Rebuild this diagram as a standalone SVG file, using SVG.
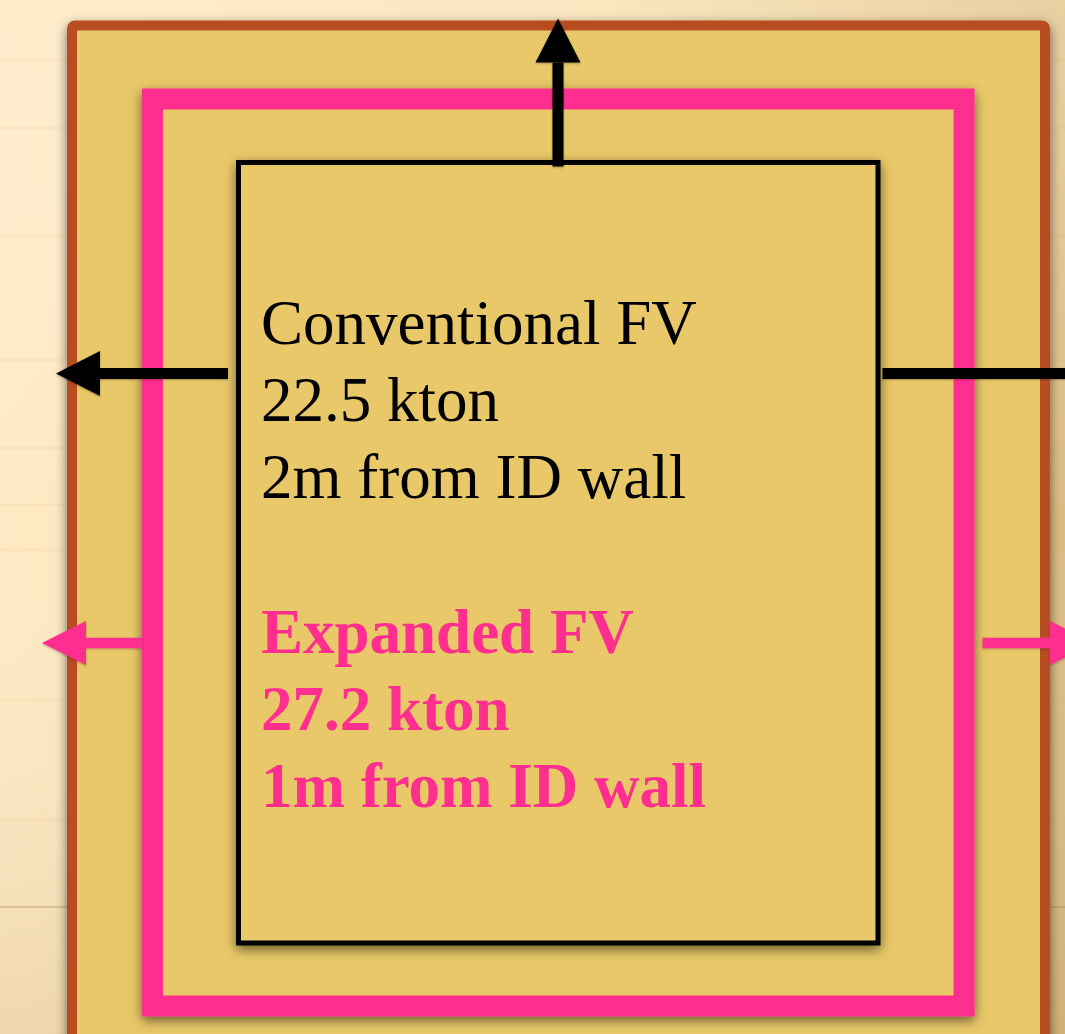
<svg xmlns="http://www.w3.org/2000/svg" width="1065" height="1034" viewBox="0 0 1065 1034">
  <defs>
    <linearGradient id="bgH" x1="0" y1="0" x2="1" y2="0">
      <stop offset="0" stop-color="#FFE9C4"/>
      <stop offset="0.55" stop-color="#F8E0B2"/>
      <stop offset="1" stop-color="#DDBC82"/>
    </linearGradient>
    <linearGradient id="bgV" x1="0" y1="0" x2="0" y2="1">
      <stop offset="0" stop-color="#FFF3DA" stop-opacity="0.35"/>
      <stop offset="0.5" stop-color="#FFFFFF" stop-opacity="0"/>
      <stop offset="1" stop-color="#8A6A30" stop-opacity="0.14"/>
    </linearGradient>
    <filter id="shadow" x="-10%" y="-10%" width="120%" height="120%">
      <feDropShadow dx="0" dy="4" stdDeviation="6" flood-color="#000" flood-opacity="0.55"/>
    </filter>
    <filter id="ashadow" x="-20%" y="-20%" width="140%" height="140%">
      <feDropShadow dx="0" dy="1" stdDeviation="1" flood-color="#000" flood-opacity="0.3"/>
    </filter>
    <marker id="headBlack" markerUnits="userSpaceOnUse" markerWidth="44" markerHeight="46" refX="0" refY="22.5" orient="auto" overflow="visible">
      <path d="M0,0 L44,22.5 L0,45 Z" fill="#000"/>
    </marker>
    <marker id="headPink" markerUnits="userSpaceOnUse" markerWidth="44" markerHeight="46" refX="0" refY="22" orient="auto" overflow="visible">
      <path d="M0,0 L44,22 L0,44 Z" fill="#FF2E8F"/>
    </marker>
    <style>
      .box { fill: #E8C867; }
      .outer { stroke: #B94E22; stroke-width: 10; }
      .pink { stroke: #FF2E8F; stroke-width: 21; }
      .conv { stroke: #000; stroke-width: 5; }
      .lab { font-family: "Liberation Serif", "Times New Roman", serif; font-size: 63px; }
      .black { fill: #000; }
      .exp { fill: #FF2E8F; font-weight: bold; }
      .lnB { stroke: #000; stroke-width: 11; fill: none; }
      .lnP { stroke: #FF2E8F; stroke-width: 10.5; fill: none; }
      .stripe { stroke: #C7A468; stroke-width: 3; opacity: 0.08; }
    </style>
  </defs>

  <g id="background">
    <rect x="0" y="0" width="1065" height="1034" fill="url(#bgH)"/>
    <rect x="0" y="0" width="1065" height="1034" fill="url(#bgV)"/>
    <line class="stripe" x1="0" y1="60" x2="1065" y2="60"/>
    <line class="stripe" x1="0" y1="128" x2="1065" y2="128"/>
    <line class="stripe" x1="0" y1="236" x2="1065" y2="236"/>
    <line class="stripe" x1="0" y1="360" x2="1065" y2="360"/>
    <line class="stripe" x1="0" y1="448" x2="1065" y2="448"/>
    <line class="stripe" x1="0" y1="505" x2="1065" y2="505"/>
    <line class="stripe" x1="0" y1="550" x2="1065" y2="550"/>
    <line class="stripe" x1="0" y1="700" x2="1065" y2="700"/>
    <line class="stripe" x1="0" y1="820" x2="1065" y2="820"/>
    <line x1="0" y1="907" x2="1065" y2="907" stroke="#9C7E4A" stroke-width="2" opacity="0.3"/>
  </g>

  <g id="detector-outer" filter="url(#shadow)">
    <rect class="box outer" x="72" y="25.5" width="973" height="1040" rx="3"/>
  </g>

  <g id="expanded-fv" filter="url(#shadow)">
    <rect class="box pink" x="152.5" y="99" width="811.5" height="907"/>
  </g>

  <g id="conventional-fv">
    <rect class="box conv" x="238.5" y="162.5" width="639.5" height="780.5" filter="url(#shadow)"/>
    <text class="lab black" x="261" y="344">Conventional FV</text>
    <text class="lab black" x="261" y="421">22.5 kton</text>
    <text class="lab black" x="261" y="498">2m from ID wall</text>
    <text class="lab exp" x="261" y="653">Expanded FV</text>
    <text class="lab exp" x="261" y="730">27.2 kton</text>
    <text class="lab exp" x="261" y="807">1m from ID wall</text>
  </g>

  <g id="connectors" filter="url(#ashadow)">
    <line class="lnB" x1="558" y1="166.5" x2="558" y2="62.5" marker-end="url(#headBlack)"/>
    <line class="lnB" x1="228" y1="373.5" x2="100" y2="373.5" marker-end="url(#headBlack)"/>
    <line class="lnB" x1="882.5" y1="373.5" x2="1070" y2="373.5" marker-end="url(#headBlack)"/>
    <line class="lnP" x1="142" y1="643" x2="86" y2="643" marker-end="url(#headPink)"/>
    <line class="lnP" x1="982.5" y1="643" x2="1050" y2="643" marker-end="url(#headPink)"/>
  </g>
</svg>
